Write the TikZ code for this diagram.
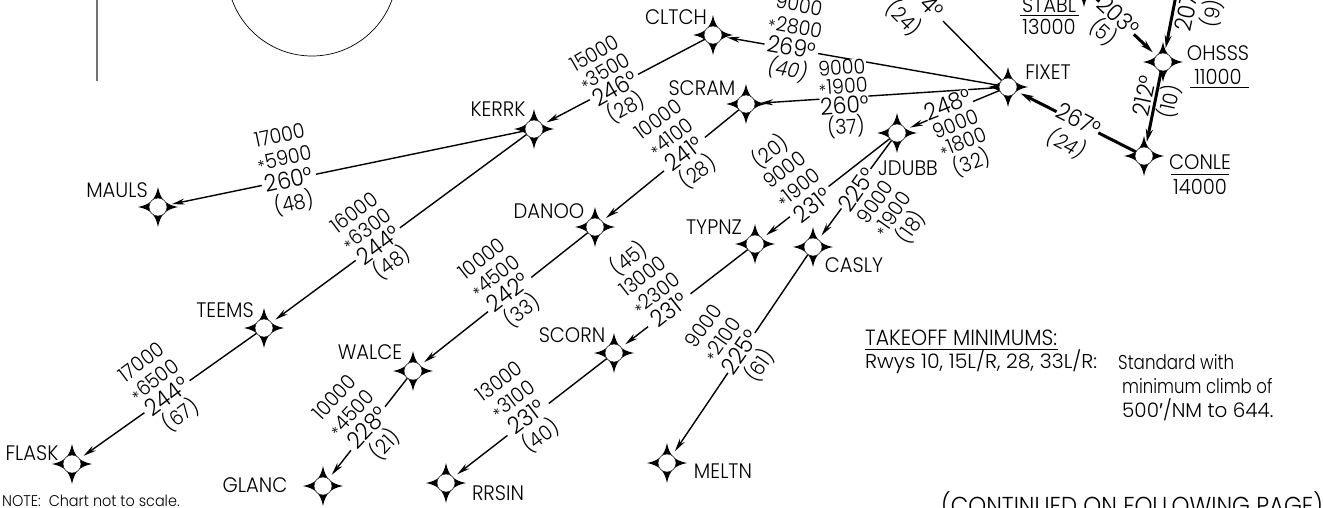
\documentclass[tikz,border=0pt]{standalone}
\usepackage{fontspec}
\usepackage{graphicx}
\setmainfont[FakeStretch=0.93]{Poppins Light}
\newfontfamily\primefont{Liberation Sans}
\usetikzlibrary{arrows.meta}
\pgfdeclarelayer{lines}
\pgfdeclarelayer{blocks}
\pgfsetlayers{lines,blocks,main}
\newcommand{\bgf}{\fontsize{23.5}{20}\selectfont}
\newcommand{\st}{\raisebox{-2.5pt}{\fontsize{17}{17}\selectfont *}\hspace{0.5pt}}
\tikzset{
  wptnode/.style={circle,draw=black,line width=0.4pt,fill=white,minimum size=18pt,inner sep=0pt},
  wptstar/.style={fill=black},
  fixname/.style={font=\fontsize{21}{24}\selectfont,inner sep=0pt},
  rowsblock/.style={fill=white,align=center,inner sep=0pt,font={\fontsize{20.5}{#1}\selectfont}},
  rowsfree/.style={align=center,inner sep=0pt,font={\fontsize{20.5}{#1}\selectfont}},
  leg/.style={line width=1.4pt,-{Stealth[length=13pt,width=6pt]},shorten >=5pt},
  legheavy/.style={line width=3pt,-{Stealth[length=13pt,width=7pt]},shorten >=5pt},
  legplain/.style={line width=1.4pt},
  note/.style={anchor=west,inner sep=0pt,font=\fontsize{20}{22}\selectfont},
}
\newcommand{\wpt}[2]{%
  \fill[wptstar,shift={(#2)}] (0,-20) .. controls (2.5,-7.5) and (7.5,-2.5) .. (20,0)
    .. controls (7.5,2.5) and (2.5,7.5) .. (0,20) .. controls (-2.5,7.5) and (-7.5,2.5) .. (-20,0)
    .. controls (-7.5,-2.5) and (-2.5,-7.5) .. (0,-20) -- cycle;
  \node[wptnode] (#1) at (#2) {};}
\newcommand{\lbl}[5][21]{%
  \begin{pgfonlayer}{blocks}
  \node[rowsblock=#1,rotate=#4] (#2) at (#3) {#5};
  \end{pgfonlayer}}
\begin{document}
\begin{tikzpicture}[x=1pt,y=-1pt]
\useasboundingbox (0,0) rectangle (1323,507);
\begin{pgfonlayer}{lines}
\fill[white] (0,0) rectangle (1323,507);
\end{pgfonlayer}
% waypoints
\wpt{fixet}{1008,87}
\wpt{ohsss}{1163,62}
\wpt{conle}{1144,156}
\wpt{jdubb}{897,133}
\wpt{casly}{813,247}
\wpt{typnz}{755,244}
\wpt{cltch}{713,35}
\wpt{scram}{746,104}
\wpt{kerrk}{534,129}
\wpt{mauls}{158,207}
\wpt{teems}{264,328}
\wpt{flask}{72,464}
\wpt{danoo}{595,227}
\wpt{scorn}{614,353}
\wpt{walce}{413,371}
\wpt{glanc}{323,486}
\wpt{rrsin}{446,483}
\wpt{meltn}{667,463}
\wpt{stabl}{1084,-13}
\coordinate (nwend) at (943,21);
\coordinate (tvoff) at (1179,-20);
% connectors
\begin{pgfonlayer}{lines}
\draw[leg] (fixet) -- (cltch);
\draw[leg] (fixet) -- (scram);
\draw[leg] (fixet) -- (jdubb);
\draw[legplain] (fixet) -- (nwend);
\draw[leg] (cltch) -- (kerrk);
\draw[leg] (kerrk) -- (mauls);
\draw[leg] (kerrk) -- (teems);
\draw[leg] (teems) -- (flask);
\draw[leg] (scram) -- (danoo);
\draw[leg] (danoo) -- (walce);
\draw[leg] (walce) -- (glanc);
\draw[leg] (jdubb) -- (typnz);
\draw[leg] (typnz) -- (scorn);
\draw[leg] (scorn) -- (rrsin);
\draw[leg] (jdubb) -- (casly);
\draw[leg] (casly) -- (meltn);
\draw[legheavy] (conle) -- (fixet);
\draw[legheavy] (stabl) -- (ohsss);
\draw[legheavy] (tvoff) -- (ohsss);
\draw[legheavy] (ohsss) -- (conle);
\end{pgfonlayer}
% rotated leg data
\lbl[22]{lfc}{793,39}{-10}{9000\\\st 2800\\{\bgf 269°}\\{\itshape (40)}}
\lbl[18.5]{lfs}{844,99}{4}{9000\\\st 1900\\{\bgf 260°}\\(37)}
\lbl[19.5]{lfj}{960,135}{22}{{\bgf 248°}\\9000\\\st 1800\\(32)}
\lbl[21]{lck}{611,82}{30}{15000\\\st 3500\\{\bgf 246°}\\(28)}
\lbl[23]{lkm}{287,171}{12}{17000\\\st 5900\\{\bgf 260°}\\(48)}
\lbl[21]{lkt}{374,239}{37}{16000\\\st 6300\\{\bgf 244°}\\(48)}
\lbl[22]{ltf}{162,390}{37}{17000\\\st 6500\\{\bgf 244°}\\(67)}
\lbl[22]{lsd}{679,147}{37}{10000\\\st 4100\\{\bgf 241°}\\(28)}
\lbl[22]{ldw}{503,286}{38}{10000\\\st 4500\\{\bgf 242°}\\(33)}
\lbl[23]{lwg}{361,422}{47}{10000\\\st 4500\\{\bgf 228°}\\(21)}
\lbl[23]{ljt}{790,177}{38}{(20)\\9000\\\st 1900\\{\bgf 231°}}
\lbl[22]{lts}{648,283}{38}{(45)\\13000\\\st 2300\\{\bgf 231°}}
\lbl[23]{lsr}{521,410}{37}{13000\\\st 3100\\{\bgf 231°}\\(40)}
\lbl[21]{ljc}{885,209}{55}{{\bgf 225°}\\9000\\\st 1900\\(18)}
\lbl[23]{lcm}{733,347}{55}{9000\\\st 2100\\{\bgf 225°}\\(61)}
\lbl[26]{lfo}{1072,133}{-27}{{\bgf 267°}\\{\itshape (24)}}
\lbl[21]{lso}{1110,25}{-43}{{\bgf 203°}\\(5)}
% off-line leg data
\node[rowsfree=25,rotate=78] (l207) at (1201,11) {{\bgf 207°}\\(9)};
\node[rowsfree=25,rotate=78] (l212) at (1158,99) {{\bgf 212°}\\(10)};
\node[rowsfree=20,rotate=-45] (l24a) at (904,18) {(24)};
\node[rowsfree=20,rotate=-45] (l24b) at (932,7) {{\bgf 4°}};
% fix names
\node[fixname] (n1) at (676,17) {CLTCH};
\node[fixname] (n2) at (702,88) {SCRAM};
\node[fixname] (n3) at (498,109) {KERRK};
\node[fixname] (n4) at (117,190) {MAULS};
\node[fixname] (n5) at (225,310) {TEEMS};
\node[fixname] (n6) at (32,453) {FLASK};
\node[fixname] (n7) at (549,211) {DANOO};
\node[fixname] (n8) at (714,227) {TYPNZ};
\node[fixname] (n9) at (572,335) {SCORN};
\node[fixname] (n10) at (370,352) {WALCE};
\node[fixname] (n11) at (255,485) {GLANC};
\node[fixname] (n12) at (498,493) {RRSIN};
\node[fixname] (n13) at (723,471) {MELTN};
\node[fixname] (n14) at (854,265) {CASLY};
\node[fixname] (n15) at (908,168) {JDUBB};
\node[fixname] (n16) at (1048,72) {FIXET};
\node[fixname] (n17) at (1218,53) {OHSSS};
\node[fixname] (n18) at (1218,77) {11000};
\node[fixname] (n19) at (1200,162) {CONLE};
\node[fixname] (n20) at (1200,187) {14000};
\node[fixname] (n21) at (1049,5) {STABL};
\node[fixname] (n22) at (1049,27) {13000};
\draw[line width=0.9pt] (1190,87) -- (1249,87);
\draw[line width=0.9pt] (1171,174) -- (1229,174);
\draw[line width=0.9pt] (1020,15.7) -- (1079,15.7);
% notes
\node[note,font=\fontsize{15.5}{18}\selectfont] (nt) at (2,501) {NOTE:\ \ Chart not to scale.};
\node[note] (t1) at (865,338) {\resizebox{192pt}{!}{TAKEOFF MINIMUMS:}};
\draw[line width=0.7pt] (865,349.5) -- (1058,349.5);
\node[note] (t2) at (865,362) {\scalebox{1.1}[1]{Rwys 10, 15L/R, 28, 33L/R:}};
\node[note] (t3) at (1118,362) {\scalebox{0.9}[1]{Standard with}};
\node[note] (t4) at (1122,386) {\scalebox{0.89}[1]{minimum climb of}};
\node[note] (t5) at (1122,410) {\scalebox{1.07}[1]{500{\primefont ′}/NM to 644.}};
\node[note,font=\fontsize{24.5}{26}\selectfont] (t6) at (941,505) {(CONTINUED ON FOLLOWING PAGE)};
% airport ring and frame
\draw[line width=0.7pt] (312,-29) circle (85);
\draw[line width=1.1pt,gray!90!black] (97,0) -- (97,81);
\end{tikzpicture}
\end{document}
